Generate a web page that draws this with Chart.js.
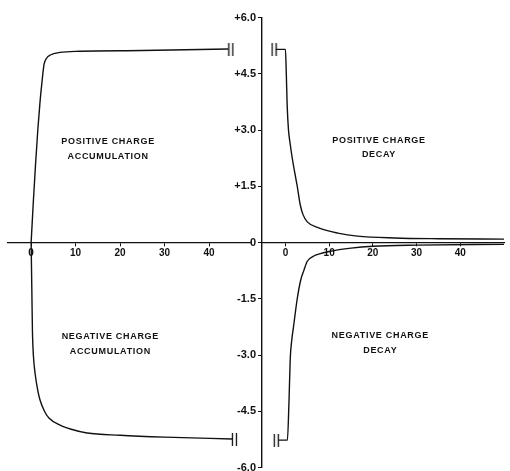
<!DOCTYPE html>
<html>
<head>
<meta charset="utf-8">
<script src="https://cdn.jsdelivr.net/npm/chart.js@4.4.1/dist/chart.umd.min.js"></script>
<style>
  body { margin: 0; background: #fff; overflow: hidden; width: 510px; height: 471px; position: relative; }
  canvas { position: absolute; top: 0; }
  #leftChart { left: 0; }
  #rightChart { left: 222px; }
</style>
</head>
<body>
<canvas id="leftChart" width="258" height="490"></canvas>
<canvas id="rightChart" width="288" height="490"></canvas>
<script>
// accumulation (left panel), time axis
const accumTimePos = [0, 0.5, 1, 1.5, 2, 2.5, 2.9, 3.5, 4.3, 6.5, 11, 25, 44.3];
const posAccum = [0, 1.1, 2.1, 3.0, 3.75, 4.35, 4.75, 4.92, 5.0, 5.07, 5.1, 5.12, 5.16];
const accumTimeNeg = [0, 0.15, 0.3, 0.5, 0.9, 1.5, 2, 3, 4, 6.5, 9, 12.6, 20, 30, 45.2];
const negAccum = [0, -1.2, -2.4, -3.0, -3.5, -3.95, -4.2, -4.5, -4.68, -4.87, -4.98, -5.08, -5.14, -5.19, -5.24];

// decay (right panel)
const decayTimePos = [-2.2, 0, 0.2, 0.4, 0.7, 1.0, 1.6, 2.7, 3.4, 4.0, 5, 7.6, 12, 16.5, 25, 35, 50];
const posDecay = [5.15, 5.15, 4.5, 3.65, 3.0, 2.7, 2.22, 1.5, 1.0, 0.75, 0.55, 0.39, 0.25, 0.17, 0.12, 0.1, 0.09];
const decayTimeNeg = [-1.6, 0.45, 0.8, 1.1, 1.45, 1.9, 2.7, 3.5, 4.2, 5, 6.5, 7.6, 10, 15, 20, 30, 50];
const negDecay = [-5.27, -5.27, -4.3, -3.1, -2.6, -2.2, -1.5, -1.0, -0.75, -0.5, -0.36, -0.31, -0.24, -0.15, -0.1, -0.07, -0.05];

// axis break symbols "||"
const leftBreakTimes = [44.9, 45.7];
const leftBreakValues = [5.16, -5.24];
const rightBreakTimes = [-2.6, -2.1];
const rightBreakValues = [5.15, -5.27];

const xTicks = [0, 10, 20, 30, 40];
const yTickValues = [-6, -4.5, -3, -1.5, 0, 1.5, 3, 4.5, 6];
const yTickLabels = ["-6.0", "-4.5", "-3.0", "-1.5", "0", "+1.5", "+3.0", "+4.5", "+6.0"];

const INK = "#111";

function toPoints(xs, ys) {
  return xs.map((x, i) => ({ x, y: ys[i] }));
}

function makeBreakImage() {
  const c = document.createElement("canvas");
  c.width = 7;
  c.height = 13;
  const ctx = c.getContext("2d");
  ctx.strokeStyle = INK;
  ctx.lineWidth = 1.3;
  ctx.beginPath();
  ctx.moveTo(1.5, 0); ctx.lineTo(1.5, 13);
  ctx.moveTo(5.5, 0); ctx.lineTo(5.5, 13);
  ctx.stroke();
  return c;
}
const breakImg = makeBreakImage();

function curve(data) {
  return {
    data,
    borderColor: INK,
    borderWidth: 1.4,
    pointRadius: 0,
    fill: false,
    cubicInterpolationMode: "monotone",
  };
}

function breaks(data) {
  return {
    data,
    showLine: false,
    pointStyle: breakImg,
    pointRadius: 5,
    borderColor: INK,
    backgroundColor: INK,
  };
}

// draws the region captions in data coordinates
const panelText = {
  id: "panelText",
  afterDraw(chart, args, opts) {
    const { ctx } = chart;
    const xs = chart.scales.x, ys = chart.scales.y;
    ctx.save();
    ctx.fillStyle = INK;
    ctx.font = 'bold 9px "Liberation Sans", Arial, sans-serif';
    ctx.letterSpacing = "0.7px";
    ctx.textAlign = "center";
    ctx.textBaseline = "middle";
    opts.labels.forEach((l) => {
      const px = xs.getPixelForValue(l.t);
      const py = ys.getPixelForValue(l.v);
      l.lines.forEach((line, i) => ctx.fillText(line, px, py + i * 14.5));
    });
    ctx.restore();
  },
};

const tickFont = { family: '"Liberation Sans", Arial, sans-serif', size: 10, weight: "bold" };

function xAxis(min, max) {
  return {
    type: "linear",
    min,
    max,
    position: { y: 0 },
    afterBuildTicks: (scale) => { scale.ticks = xTicks.map((v) => ({ value: v })); },
    ticks: { color: INK, font: tickFont, padding: 2, maxRotation: 0 },
    grid: { drawOnChartArea: false, tickLength: 3, color: INK },
    border: { display: true, color: INK, width: 1.3 },
  };
}

const leftChart = new Chart(document.getElementById("leftChart"), {
  type: "line",
  data: {
    datasets: [
      curve(toPoints(accumTimePos, posAccum)),
      curve(toPoints(accumTimeNeg, negAccum)),
      breaks(toPoints(leftBreakTimes, leftBreakValues)),
    ],
  },
  options: {
    responsive: false,
    animation: false,
    layout: { padding: { left: 8, right: 8, top: 17.5, bottom: 22.5 } },
    plugins: {
      legend: { display: false },
      tooltip: { enabled: false },
      panelText: {
        labels: [
          { lines: ["POSITIVE CHARGE", "ACCUMULATION"], t: 17.3, v: 2.68 },
          { lines: ["NEGATIVE CHARGE", "ACCUMULATION"], t: 17.8, v: -2.52 },
        ],
      },
    },
    scales: {
      x: xAxis(-5.2, 49.2),
      y: { min: -6, max: 6, display: false },
    },
  },
  plugins: [panelText],
});

const rightChart = new Chart(document.getElementById("rightChart"), {
  type: "line",
  data: {
    datasets: [
      curve(toPoints(decayTimePos, posDecay)),
      curve(toPoints(decayTimeNeg, negDecay)),
      breaks(toPoints(rightBreakTimes, rightBreakValues)),
    ],
  },
  options: {
    responsive: false,
    animation: false,
    layout: { padding: { left: 0, right: 0, top: 17.5, bottom: 22.5 } },
    plugins: {
      legend: { display: false },
      tooltip: { enabled: false },
      panelText: {
        labels: [
          { lines: ["POSITIVE CHARGE", "DECAY"], t: 21.4, v: 2.73 },
          { lines: ["NEGATIVE CHARGE", "DECAY"], t: 21.7, v: -2.49 },
        ],
      },
    },
    scales: {
      x: xAxis(-5.36, 50),
      y: {
        min: -6,
        max: 6,
        position: "left",
        afterBuildTicks: (scale) => { scale.ticks = yTickValues.map((v) => ({ value: v })); },
        afterFit: (scale) => { scale.width = 40; },
        ticks: {
          color: INK,
          font: { ...tickFont, size: 11 },
          padding: 2,
          callback: (v, i) => yTickLabels[i],
        },
        grid: { drawOnChartArea: false, tickLength: 4, color: INK },
        border: { display: true, color: INK, width: 1.4 },
      },
    },
  },
  plugins: [panelText],
});
</script>
</body>
</html>
